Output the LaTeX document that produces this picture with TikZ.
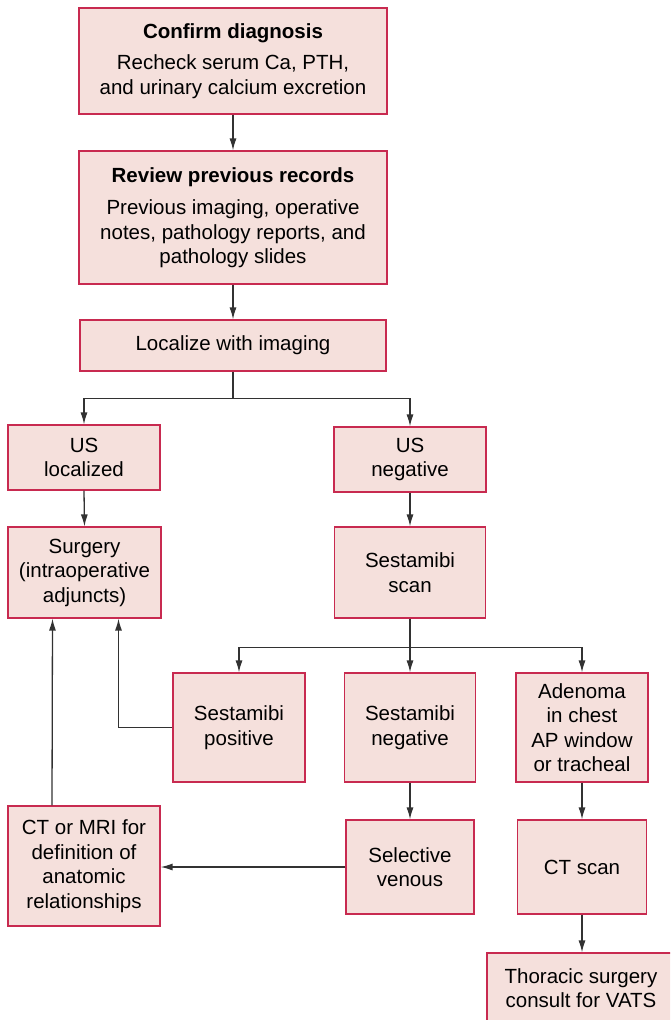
\documentclass[tikz,border=0pt]{standalone}
\usepackage{fontspec}
\setmainfont{Liberation Sans}
\usetikzlibrary{arrows.meta}
\definecolor{boxfill}{RGB}{245,224,220}
\definecolor{boxline}{RGB}{200,42,80}
\definecolor{arrowgray}{RGB}{50,50,50}

\begin{document}
\begin{tikzpicture}[x=1pt,y=-1pt,
  flowbox/.style={draw=boxline, fill=boxfill, line width=1.2pt, align=center, inner sep=0pt,
    font=\fontsize{20.5}{24.5}\selectfont},
  flowline/.style={arrowgray, line width=1.3pt},
  flowarrow/.style={flowline, -{Latex[length=12pt,width=7pt]}}]
\useasboundingbox (0,0) rectangle (670,1020);
\clip (0,0) rectangle (670,1020);
% Nodes
\node[flowbox, minimum width=308, minimum height=106] (confirm) at (233,61)
  {\textbf{Confirm diagnosis}\\[7pt]Recheck serum Ca, PTH,\\and urinary calcium excretion};
\node[flowbox, minimum width=308, minimum height=133] (review) at (233,217.5)
  {\textbf{Review previous records}\\[8pt]Previous imaging, operative\\notes, pathology reports, and\\pathology slides};
\node[flowbox, minimum width=306, minimum height=51] (localize) at (233,345.5) {Localize with imaging};
\node[flowbox, minimum width=152, minimum height=65] (usloc) at (84,457.5) {US\\localized};
\node[flowbox, minimum width=152, minimum height=65] (usneg) at (410,459.5) {US\\negative};
\node[flowbox, minimum width=153, minimum height=91] (surgery) at (84.5,572.5)
  {Surgery\\(intraoperative\\adjuncts)};
\node[flowbox, minimum width=151, minimum height=91] (sscan) at (410,572.5) {Sestamibi\\scan};
\node[flowbox, minimum width=132, minimum height=109] (spos) at (239,727.5) {Sestamibi\\positive};
\node[flowbox, minimum width=131, minimum height=109] (sneg) at (410,727.5) {Sestamibi\\negative};
\node[flowbox, minimum width=132, minimum height=109] (adenoma) at (582,727.5)
  {Adenoma\\in chest\\AP window\\or tracheal};
\node[flowbox, minimum width=152, minimum height=120] (ctmri) at (84,866)
  {CT or MRI for\\definition of\\anatomic\\relationships};
\node[flowbox, minimum width=128, minimum height=94] (venous) at (410,867) {Selective\\venous};
\node[flowbox, minimum width=129, minimum height=94] (ctscan) at (582,867) {CT scan};
\node[flowbox, minimum width=188, minimum height=70] (thoracic) at (581,988)
  {Thoracic surgery\\consult for VATS};
% Lines
\draw[flowarrow] (confirm.south) -- (review.north);
\draw[flowarrow] (review.south) -- (localize.north);
\draw[flowline] (localize.south) -- ++(0,27) coordinate (split1);
\draw[flowarrow] (split1) -| (usloc.north);
\draw[flowarrow] (split1) -| (usneg.north);
\draw[flowarrow] (usloc.south) -- (surgery.north);
\draw[flowarrow] (usneg.south) -- (sscan.north);
\draw[flowline] (sscan.south) -- ++(0,29) coordinate (split2);
\draw[flowarrow] (split2) -| (spos.north);
\draw[flowarrow] (split2) -- (sneg.north);
\draw[flowarrow] (split2) -| (adenoma.north);
\draw[flowarrow] (spos.west) -| ([xshift=34]surgery.south);
\draw[flowarrow] ([xshift=-32]ctmri.north) -- ([xshift=-32]surgery.south);
\draw[flowarrow] (sneg.south) -- (venous.north);
\draw[flowarrow] (venous.west) -- (ctmri.east |- venous.west);
\draw[flowarrow] (adenoma.south) -- (ctscan.north);
\draw[flowarrow] (ctscan.south) -- (thoracic.north -| ctscan.south);
\end{tikzpicture}
\end{document}
